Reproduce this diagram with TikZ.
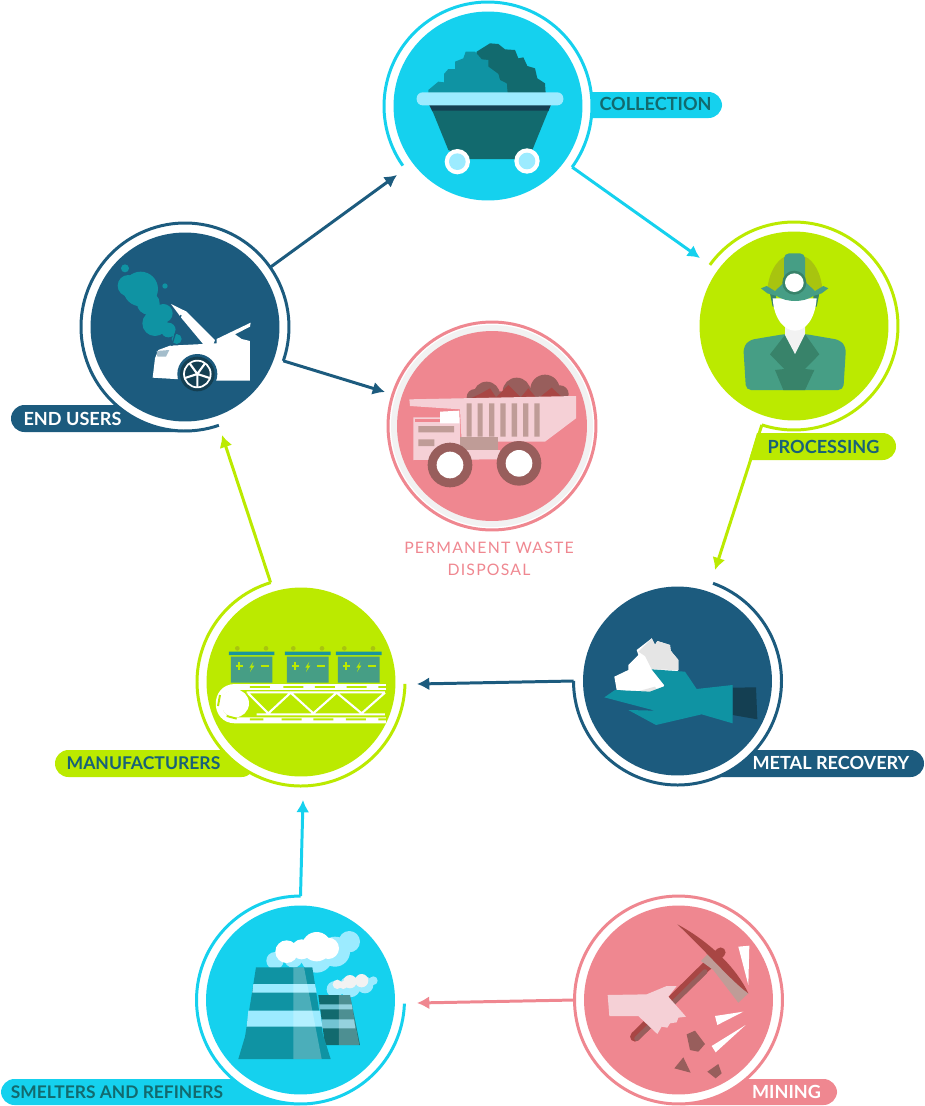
\documentclass[tikz,border=0pt]{standalone}
\usepackage{fontspec}
\setmainfont{Lato}
\newfontfamily\wastefont[LetterSpace=7.5]{Lato}
\usepackage{xcolor}
\usetikzlibrary{arrows.meta,calc,positioning}
\definecolor{skyc}{HTML}{15D1EE}
\definecolor{limec}{HTML}{BBEA00}
\definecolor{navyc}{HTML}{1C5B7E}
\definecolor{coralc}{HTML}{EF8790}
\definecolor{deepteal}{HTML}{126A6E}
\definecolor{tealc}{HTML}{0F93A3}
\definecolor{palesky}{HTML}{9CEBFF}
\definecolor{suitc}{HTML}{469E85}
\definecolor{suitdark}{HTML}{38836A}
\definecolor{olivec}{HTML}{A8C40F}
\definecolor{palepink}{HTML}{F5D0D6}
\definecolor{brownc}{HTML}{985E5C}
\definecolor{redc}{HTML}{A84644}
\definecolor{taupec}{HTML}{BF9C97}
\definecolor{cuffc}{HTML}{143F52}
\tikzset{
  station/.style={circle,fill=white,minimum size=4.16cm,inner sep=0pt,outer sep=0pt},
  ringline/.style={line width=1.7pt},
  flow/.style={line width=1.7pt,-{Latex[length=7pt,width=7.5pt]}},
  pill/.style={rounded corners=0.27cm},
  tag/.style={font=\bfseries\fontsize{#1}{12}\selectfont,inner sep=0pt},
  tag/.default=10.3,
  zoomed/.style={scale=1/3}
}
\begin{document}
\begin{tikzpicture}[x=0.02cm,y=-0.02cm]
\useasboundingbox (0,0) rectangle (925,1106);
% label bars
\fill[skyc,pill] (560,92) rectangle (722,118);
\fill[navyc] (190,405) -- (190,432) [pill] -- (11,432) -- (11,405) [sharp corners] -- cycle;
\fill[limec] (757,433) [pill] -- (896,433) -- (896,460) [sharp corners] -- (749,460) -- cycle;
\fill[navyc,pill] (700,750) rectangle (924,777);
\fill[limec,pill] (55,750) rectangle (255,777);
\fill[skyc] (300,1079) -- (300,1105) [pill] -- (1,1105) -- (1,1079) [sharp corners] -- cycle;
\fill[coralc] (680,1079) [pill] -- (837,1079) -- (837,1105) [sharp corners] -- (680,1105) -- cycle;
% stations
\node[station] (collection) at (488,106) {};
\node[station] (processing) at (794,326) {};
\node[station] (endusers) at (185,327) {};
\node[station] (disposal) at (492,426) {};
\node[station] (recovery) at (677.5,681) {};
\node[station] (manufacturers) at (301,682) {};
\node[station] (smelters) at (300.5,1000) {};
\node[station] (mining) at (678.5,1000) {};
% rings
\draw[ringline,skyc] (collection.215) arc[start angle=215,end angle=-36,radius=2.08cm];
\draw[ringline,limec] (processing.144) arc[start angle=144,end angle=-108,radius=2.08cm];
\draw[ringline,navyc] (endusers.-71) arc[start angle=-71,end angle=-379,radius=2.08cm];
\draw[ringline,navyc] (recovery.70) arc[start angle=70,end angle=-180,radius=2.08cm];
\draw[ringline,limec] (manufacturers.107) arc[start angle=107,end angle=359,radius=2.08cm];
\draw[ringline,skyc] (smelters.90) arc[start angle=90,end angle=358,radius=2.08cm];
\draw[ringline,coralc] (mining) circle[radius=2.08cm];
\fill[white!95!black] (disposal) circle[radius=2.02cm];
\draw[ringline,coralc] (disposal) circle[radius=2.08cm];
% disks
\fill[skyc] (collection) circle[radius=1.89cm];
\fill[limec] (processing) circle[radius=1.89cm];
\fill[navyc] (endusers) circle[radius=1.89cm];
\fill[coralc] (disposal) circle[radius=1.9cm];
\fill[navyc] (recovery) circle[radius=1.89cm];
\fill[limec] (manufacturers) circle[radius=1.89cm];
\fill[skyc] (smelters) circle[radius=1.89cm];
\fill[coralc] (mining) circle[radius=1.89cm];
% arrow ends
\coordinate (processingin) at (700,258);
\coordinate (recoveryin) at (715,570);
\coordinate (manufin) at (417,684);
\coordinate (smeltin) at (417,1003);
\coordinate (manufbelow) at (303,800);
\coordinate (usersin) at (222,435);
\coordinate (collectionin) at (397,175);
\coordinate (disposalin) at (385,392);
\draw[flow,skyc] (collection.-36) -- (processingin);
\draw[flow,limec] (processing.-108) -- (recoveryin);
\draw[flow,navyc] (recovery.180) -- (manufin);
\draw[flow,coralc] (mining.180) -- (smeltin);
\draw[flow,skyc] (smelters.90) -- (manufbelow);
\draw[flow,limec] (manufacturers.107) -- (usersin);
\draw[flow,navyc] (endusers.35) -- (collectionin);
\draw[flow,navyc] (endusers.-19) -- (disposalin);
% cart
\begin{scope}[shift={(370,0)},zoomed]
\fill[deepteal] (320,155)--(360,130)--(385,132)--(405,148)--(435,150)--(445,175)--(460,172)--(472,198)--(495,205)--(502,235)--(525,250)--(527,280)--(300,280)--cycle;
\fill[tealc] (175,270)--(205,245)--(222,247)--(222,222)--(235,207)--(255,207)--(255,185)--(280,175)--(287,155)--(315,155)--(335,178)--(355,180)--(355,200)--(385,222)--(390,240)--(410,250)--(413,280)--(175,280)--cycle;
\fill[cuffc] (177,314)--(543,314)--(535,334)--(187,334)--cycle;
\fill[deepteal] (187,332)--(535,332)--(487,450)--(455,477)--(300,477)--(235,450)--cycle;
\fill[palesky,rounded corners=0.12cm] (140,277) rectangle (580,316);
\fill[white] (262,485) circle[radius=38];
\fill[palesky] (262,485) circle[radius=25];
\fill[white] (471,483) circle[radius=38];
\fill[palesky] (471,483) circle[radius=25];
\end{scope}
% miner
\begin{scope}[shift={(690,210)},zoomed]
\fill[suitc,rounded corners=0.1cm] (168,540)--(160,412)--(178,390)--(285,372)--(345,372)--(450,390)--(468,412)--(460,540)--cycle;
\fill[suitdark] (285,375)--(315,432)--(345,372)--(388,433)--(345,477)--(373,480)--(345,540)--(280,540)--(255,480)--(283,477)--(240,433)--cycle;
\fill[white!90!gray] (285,345)--(345,345)--(345,372)--(315,432)--(285,375)--cycle;
\fill[suitdark] (240,250)--(258,250)--(258,290)--(248,290)--cycle;
\fill[suitdark] (370,250)--(388,250)--(380,290)--(370,290)--cycle;
\fill[white] (248,265)--(380,265) .. controls (375,330) and (345,362) .. (315,362) .. controls (285,362) and (252,330) .. (248,265)--cycle;
\fill[olivec] (232,242) .. controls (235,190) and (260,150) .. (285,140)--(345,140) .. controls (370,150) and (395,190) .. (397,242)--cycle;
\fill[suitc,rounded corners=0.1cm] (282,130) rectangle (345,225);
\fill[suitc] (213,235)--(230,228)--(255,243)--(285,215)--(345,215)--(375,243)--(400,228)--(415,235)--(395,250)--(370,258) .. controls (340,278) and (290,278) .. (260,258)--(232,250)--cycle;
\fill[suitdark] (313,218) circle[radius=36];
\fill[white] (313,218) circle[radius=28];
\end{scope}
% car
\begin{scope}[shift={(0,215)},zoomed]
\fill[tealc] (375,160) circle[radius=12] (495,213) circle[radius=8] (422,222) circle[radius=52] (385,212) circle[radius=32] (445,265) circle[radius=34] (490,295) circle[radius=28] (465,325) circle[radius=38] (505,345) circle[radius=22] (530,372) circle[radius=15];
\fill[white] (513,267)--(560,290)--(645,375)--(640,388)--(610,388)--(545,310)--cycle;
\fill[white] (650,372)--(752,323)--(750,335)--(705,358)--(725,372)--(750,378)--(750,497)--(650,497)--(540,493)--(458,488)--(465,430)--(475,405)--(510,392)--(650,385)--cycle;
\draw[navyc,line width=0.7pt] (543,300)--(515,392);
\fill[navyc!40!white] (470,408)--(508,405)--(498,425)--(472,425)--cycle;
\fill[navyc] (592,477) circle[radius=60];
\fill[cuffc] (592,477) circle[radius=52];
\draw[white,line width=1pt] (592,477) circle[radius=40];
\draw[white,line width=1.2pt] (592,477)--++(90:40) (592,477)--++(18:40) (592,477)--++(162:40) (592,477)--++(234:40) (592,477)--++(306:40);
\end{scope}
% truck
\begin{scope}[shift={(380,320)},zoomed]
\fill[brownc] (285,232) circle[radius=25] (320,225) circle[radius=40] (362,232) circle[radius=18] (410,215) circle[radius=42] (452,228) circle[radius=22] (495,208) circle[radius=44] (540,222) circle[radius=26];
\fill[redc] (272,235)--(300,222)--(330,205)--(350,235)--cycle;
\fill[redc] (345,235)--(385,195)--(425,235)--cycle;
\fill[redc] (420,235)--(445,205)--(470,235)--cycle;
\fill[redc] (475,235)--(515,203)--(550,235)--cycle;
\fill[palepink] (88,238)--(588,228)--(588,295)--(495,365)--(245,365)--(240,268)--(90,258)--cycle;
\fill[taupec] (260,250) rectangle (275,350) (293,250) rectangle (308,350) (327,250) rectangle (343,350) (361,250) rectangle (377,350) (395,250) rectangle (411,350) (429,250) rectangle (445,350) (463,250) rectangle (479,350);
\fill[palepink] (100,292)--(240,292)--(240,390)--(360,390)--(360,418)--(100,420)--cycle;
\fill[taupec] (240,352) rectangle (355,390);
\fill[white] (180,275)--(238,272)--(238,310)--(180,310)--cycle;
\fill[coralc] (105,297) rectangle (180,307);
\fill[taupec] (115,318) rectangle (222,337) (115,358) rectangle (163,378);
\fill[brownc] (210,435) circle[radius=67];
\fill[white] (210,435) circle[radius=40];
\fill[brownc] (417,430) circle[radius=67];
\fill[white] (417,430) circle[radius=40];
\end{scope}
% glove
\begin{scope}[shift={(570,580)},zoomed]
\fill[white] (133,290)--(175,270)--(175,255)--(205,225)--(200,210)--(245,175)--(255,195)--(262,183)--(300,195)--(302,212)--(325,240)--(325,270)--(285,310)--(272,345)--(140,330)--cycle;
\fill[white!90!black] (225,228)--(205,215)--(245,175)--(255,195)--(262,183)--(300,195)--(302,212)--(325,240)--(325,270)--(245,268)--cycle;
\fill[white!90!black] (200,335)--(255,320)--(272,345)--cycle;
\fill[cuffc] (488,323)--(558,322)--(562,418)--(488,405)--cycle;
\fill[tealc] (103,352)--(135,330)--(240,335)--(285,318)--(245,268)--(345,275)--(380,327)--(488,315)--(488,430)--(395,403)--(258,435)--(175,390)--(255,392)--cycle;
\end{scope}
% conveyor
\begin{scope}[shift={(50,580)},zoomed]
\fill[olivec] (562,205) circle[radius=7] (648,205) circle[radius=7] (730,205) circle[radius=7] (816,205) circle[radius=7] (883,205) circle[radius=7] (969,205) circle[radius=7];
\fill[suitc] (543,230) rectangle (667,308) (711,230) rectangle (836,308) (864,230) rectangle (989,308);
\fill[tealc!80!suitc] (537,215) rectangle (673,225) (705,215) rectangle (842,225) (858,215) rectangle (995,225);
\draw[limec,line width=1.2pt] (557,258)--(580,258) (568,247)--(568,270) (633,258)--(657,258) (725,258)--(748,258) (736,247)--(736,270) (801,258)--(825,258) (878,258)--(901,258) (889,247)--(889,270) (954,258)--(978,258);
\fill[limec] (610,245)--(598,263)--(605,263)--(600,276)--(613,257)--(606,257)--cycle;
\fill[limec] (778,245)--(766,263)--(773,263)--(768,276)--(781,257)--(774,257)--cycle;
\fill[limec] (931,245)--(919,263)--(926,263)--(921,276)--(934,257)--(927,257)--cycle;
\draw[white,line width=3.4pt] (1008,321)--(555,321) .. controls (490,321) and (490,421) .. (555,421)--(1008,421);
\fill[white] (555,370) circle[radius=42];
\draw[limec,line width=1.1pt] (600,321)--(660,321) (700,321)--(760,321) (795,321)--(855,321) (890,321)--(950,321) (985,321)--(1008,321) (600,418)--(640,418) (695,418)--(755,418) (790,418)--(850,418) (888,418)--(948,418) (985,418)--(1008,418) (510,345)--(504,378) (530,408)--(560,416);
\draw[white,line width=1.2pt] (590,337)--(1005,337) (620,403)--(1005,403) (595,340)--(655,400)--(722,338)--(790,400)--(860,338)--(935,400)--(1005,338);
\end{scope}
% towers
\begin{scope}[shift={(0,890)},zoomed]
\fill[palesky] (825,212) circle[radius=26] (880,205) circle[radius=28] (950,200) circle[radius=48] (1005,185) circle[radius=45] (1048,155) circle[radius=32];
\fill[white] (860,185) circle[radius=34] (905,178) circle[radius=30] (950,170) circle[radius=44] (985,175) circle[radius=32];
\fill[palesky] (1005,298) circle[radius=25] (1050,290) circle[radius=32] (1095,285) circle[radius=25] (1120,272) circle[radius=13];
\fill[white!95!black] (1012,283) circle[radius=14] (1030,285) circle[radius=12] (1050,275) circle[radius=20] (1085,272) circle[radius=20];
\fill[deepteal] (955,315)--(1050,315)--(1080,465)--(975,465)--cycle;
\fill[palesky!70!deepteal] (958,343)--(1055,343)--(1058,358)--(958,358)--cycle;
\fill[palesky!70!deepteal] (965,388)--(1062,388)--(1066,415)--(965,415)--cycle;
\fill[white,opacity=0.25] (1017,315)--(1050,315)--(1078,465)--(1017,465)--cycle;
\fill[tealc] (768,232)--(937,232)--(968,430)--(992,507)--(715,507)--(735,440)--cycle;
\fill[palesky] (760,282)--(945,282)--(950,308)--(757,308)--cycle;
\fill[palesky] (745,362)--(960,362)--(967,410)--(740,410)--cycle;
\fill[white,opacity=0.25] (880,232)--(912,232)--(965,507)--(880,507)--cycle;
\end{scope}
% pick and hand
\begin{scope}[shift={(570,890)},zoomed]
\draw[redc,line width=5.6pt,line cap=round] (195,440)--(452,187);
\draw[brownc,line width=2.8pt,line cap=round] (200,446)--(405,245);
\fill[taupec] (322,103)--(420,185)--(535,310)--(505,338)--(430,240)--(393,213)--(415,190)--cycle;
\fill[redc] (322,103) .. controls (420,155) and (500,235) .. (535,310) .. controls (480,270) and (410,185) .. cycle;
\fill[palepink] (113,315)--(230,313)--(290,288)--(320,288)--(295,320)--(348,380)--(325,383)--(320,397)--(300,400)--(292,413)--(275,410)--(262,432)--(205,378)--(118,378)--cycle;
\fill[white] (505,170)--(538,167)--(535,285)--cycle;
\fill[white] (435,378)--(520,365)--(442,405)--cycle;
\fill[white] (425,468)--(527,405)--(437,487)--cycle;
\fill[brownc] (350,433)--(375,422)--(405,462)--(385,485)--(360,480)--cycle;
\fill[brownc] (313,535)--(340,502)--(362,548)--cycle;
\fill[brownc] (412,545)--(445,522)--(455,550)--(437,565)--cycle;
\end{scope}
% labels
\node[tag,deepteal] (collectionlabel) at (655.5,104) {COLLECTION};
\node[tag,navyc!60!deepteal] (processinglabel) at (823.5,447) {PROCESSING};
\node[tag,white] (userslabel) at (72.5,419) {END USERS};
\node[tag,white] (recoverylabel) at (831,763) {METAL RECOVERY};
\node[tag=10,navyc!60!deepteal] (manuflabel) at (143.5,763) {MANUFACTURERS};
\node[tag=9.9,deepteal] (smelterslabel) at (117,1092) {SMELTERS AND REFINERS};
\node[tag,white] (mininglabel) at (786.5,1092) {MINING};
\node[coralc,align=center,inner sep=0pt,font=\wastefont\fontsize{9}{12.5}\selectfont] (disposallabel) at (489,559) {PERMANENT WASTE\\DISPOSAL};
\end{tikzpicture}
\end{document}
